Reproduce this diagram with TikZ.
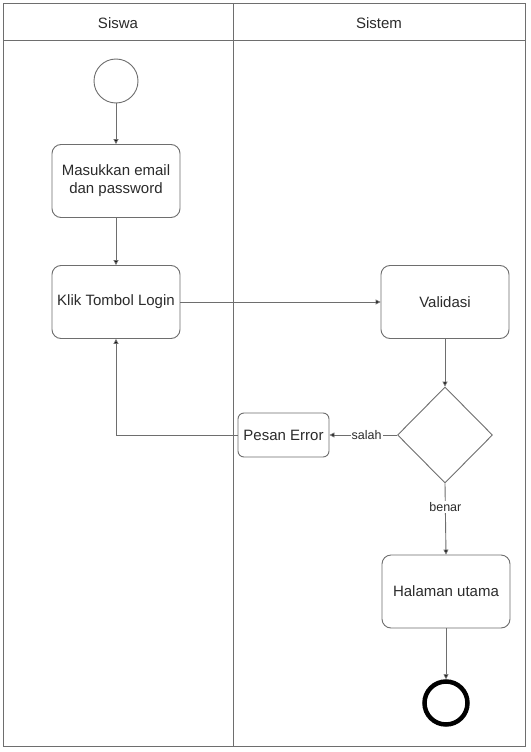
\documentclass[tikz,border=0pt]{standalone}
\usepackage{fontspec}
\setmainfont{Liberation Sans}
\usetikzlibrary{shapes.geometric,arrows.meta}
\definecolor{ln}{HTML}{6E6E6E}
\definecolor{tx}{HTML}{2B2B2B}
\begin{document}
\begin{tikzpicture}[x=1pt,y=-1pt,
  act/.style={draw=ln,line width=0.9pt,rounded corners=9pt,minimum width=128pt,minimum height=73pt,align=center,text=tx,font=\fontsize{15}{18}\selectfont,inner sep=2pt},
  conn/.style={draw=ln,line width=0.9pt,-{Triangle[length=5pt,width=5pt,fill=black]}},
  lbl/.style={fill=white,text=tx,font=\fontsize{12.5}{14}\selectfont,inner sep=1pt},
  hdr/.style={text=tx,font=\fontsize{15}{18}\selectfont}]
\useasboundingbox (0,0) rectangle (530,752);
\fill[white] (0,0) rectangle (530,752);
% frame
\draw[ln,line width=1pt] (3,4) rectangle (525,746);
\draw[ln,line width=1pt] (3,41) -- (525,41);
\draw[ln,line width=1pt] (233,4) -- (233,746);
\node[hdr] (h1) at (118,23) {Siswa};
\node[hdr] (h2) at (379,23) {Sistem};
% nodes
\node[draw=ln,line width=0.9pt,circle,minimum size=44pt,inner sep=0pt] (start) at (116,81) {};
\node[act] (mail) at (116,181) {Masukkan email\\dan password};
\node[act] (klik) at (116,302) {Klik Tombol Login};
\node[act] (val) at (445,302) {Validasi};
\node[draw=ln,line width=0.9pt,diamond,minimum width=95pt,minimum height=96pt,inner sep=0pt] (dec) at (445,435) {};
\node[act,minimum width=91pt,minimum height=44pt,rounded corners=6pt] (err) at (283.5,435) {Pesan Error};
\node[act] (home) at (446,591.5) {Halaman utama};
\node[draw=black,line width=4.5pt,circle,minimum size=43pt,inner sep=0pt] (end) at (446,703) {};
% connectors
\draw[conn] (start) -- (mail);
\draw[conn] (mail) -- (klik);
\draw[conn] (klik) -- (val);
\draw[conn] (val) -- (dec);
\draw[conn] (dec.west) -- node[lbl,pos=0.45] (salah) {salah} (err.east);
\draw[conn] (err.west) -| (klik.south);
\draw[conn] (dec.south) -- node[lbl,pos=0.33] (benar) {benar} (home.north);
\draw[conn] (home.south) -- (end.north);
\end{tikzpicture}
\end{document}
